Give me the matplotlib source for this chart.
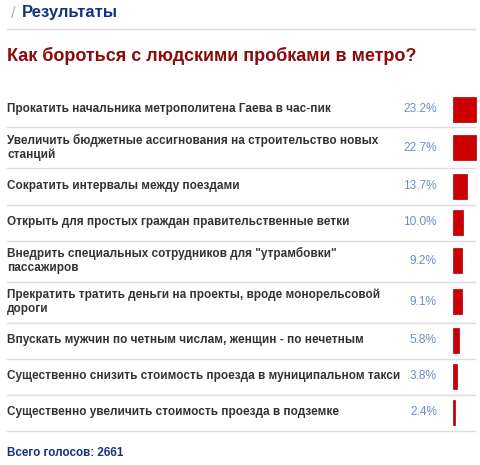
import numpy as np
import matplotlib
matplotlib.use("Agg")
import matplotlib.pyplot as plt

header = "Результаты"
question = "Как бороться с людскими пробками в метро?"
answers = [
    "Прокатить начальника метрополитена Гаева в час-пик",
    "Увеличить бюджетные ассигнования на строительство новых\nстанций",
    "Сократить интервалы между поездами",
    "Открыть для простых граждан правительственные ветки",
    "Внедрить специальных сотрудников для \"утрамбовки\"\nпассажиров",
    "Прекратить тратить деньги на проекты, вроде монорельсовой\nдороги",
    "Впускать мужчин по четным числам, женщин - по нечетным",
    "Существенно снизить стоимость проезда в муниципальном такси",
    "Существенно увеличить стоимость проезда в подземке",
]
percents = [23.2, 22.7, 13.7, 10.0, 9.2, 9.1, 5.8, 3.8, 2.4]
total_votes = 2661

W, H = 480, 465
plt.rcParams['font.family'] = ['Liberation Sans', 'DejaVu Sans']

fig = plt.figure(figsize=(W / 100, H / 100), dpi=100)
ax = fig.add_axes([0, 0, 1, 1])
ax.set_xlim(0, W)
ax.set_ylim(H, 0)
ax.axis('off')

# header
ax.text(11, 13, "/", color='#9FB4D6', fontsize=12, va='center')
ax.text(22, 13, header, color='#12337F', fontsize=12, fontweight='bold', va='center')
ax.plot([7, 475], [29.5, 29.5], color='#DDDDDD', lw=1)
ax.text(7, 56, question, color='#8B0A0A', fontsize=13, fontweight='bold', va='center')

# rows
row_h1, row_h2 = 36, 41
tops = [91]
for a in answers:
    tops.append(tops[-1] + (row_h2 if '\n' in a else row_h1))
tops = np.array(tops)
centers = (tops[:-1] + tops[1:]) / 2

ax.barh(centers, percents, left=453, height=25, color='#CC0000',
        edgecolor='#A3000F', linewidth=0.5)

for c, a, p in zip(centers, answers, percents):
    ax.text(7, c, a, color='#333333', fontsize=8.45, fontweight='bold',
            va='center', linespacing=1.2)
    ax.text(437, c, f"{p:.1f}%", color='#6E8FBF', fontsize=8.6,
            va='center', ha='right')

for t in tops[1:]:
    ax.plot([7, 475], [t + 0.5, t + 0.5], color='#DDDDDD', lw=1)

ax.text(7, 453, f"Всего голосов: {total_votes}", color='#12337F',
        fontsize=8.4, fontweight='bold', va='center')

fig.savefig("out.png", dpi=100)
